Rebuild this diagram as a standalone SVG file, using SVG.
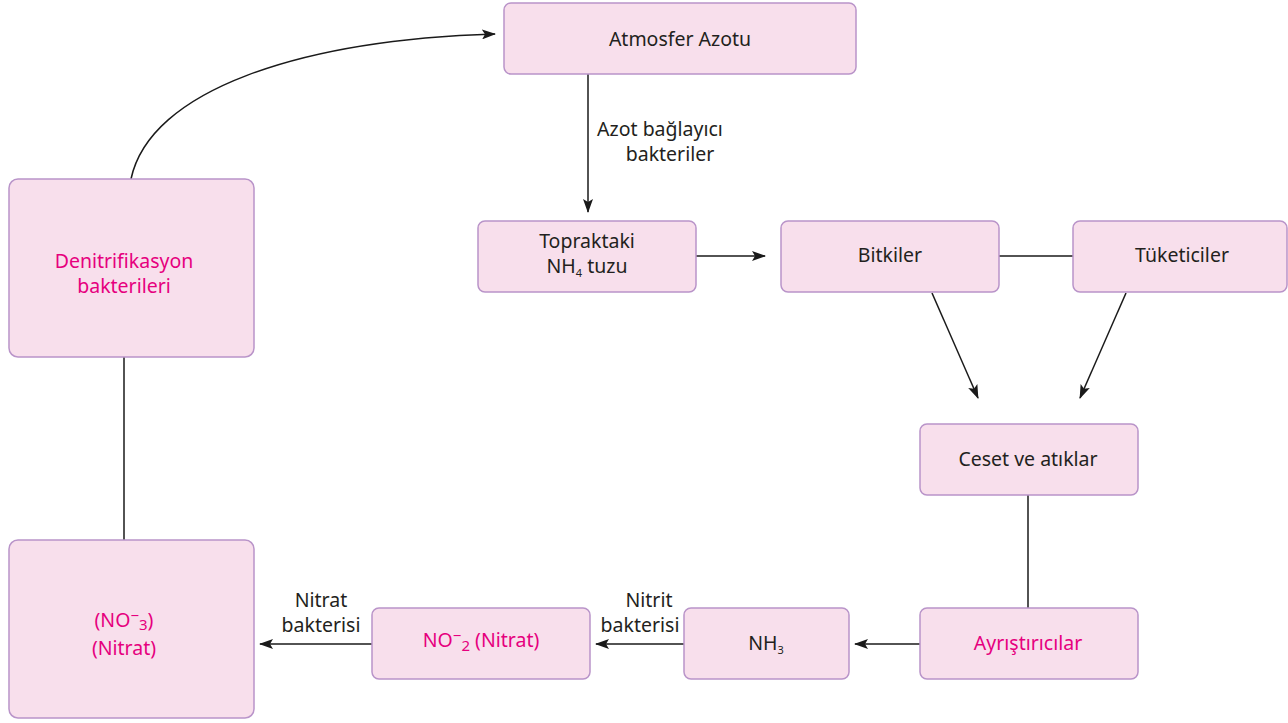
<svg xmlns="http://www.w3.org/2000/svg" width="1288" height="723" viewBox="0 0 1288 723">
<defs>
<marker id="ah" markerWidth="14" markerHeight="10" refX="13" refY="5" orient="auto" markerUnits="userSpaceOnUse">
<path d="M0,0 L14,5 L0,10 L3,5 Z" fill="#1a1a1a"/>
</marker>
<style>
.box{fill:#f8dfec;stroke:#b994c9;stroke-width:1.5}
.t{font-family:"Noto Sans","Liberation Sans",sans-serif;font-size:19.5px;fill:#231f20;text-anchor:middle}
.p{fill:#e6007e}
.c{stroke:#1a1a1a;stroke-width:1.5;fill:none}
.s{font-size:11px}
.m{font-size:15px}
</style>
</defs>
<rect width="1288" height="723" fill="#fff"/>
<g id="connectors">
<line class="c" x1="588" y1="74" x2="588" y2="212" marker-end="url(#ah)"/>
<line class="c" x1="696" y1="256" x2="765" y2="256" marker-end="url(#ah)"/>
<line class="c" x1="999" y1="256" x2="1073" y2="256"/>
<line class="c" x1="932" y1="293" x2="978" y2="398" marker-end="url(#ah)"/>
<line class="c" x1="1126" y1="293" x2="1080" y2="398" marker-end="url(#ah)"/>
<line class="c" x1="1028" y1="495" x2="1028" y2="608"/>
<line class="c" x1="920" y1="644" x2="855" y2="644" marker-end="url(#ah)"/>
<line class="c" x1="684" y1="644" x2="596" y2="644" marker-end="url(#ah)"/>
<line class="c" x1="372" y1="644" x2="260" y2="644" marker-end="url(#ah)"/>
<line class="c" x1="124" y1="540" x2="124" y2="357"/>
<path class="c" d="M131,179 C150,90 300,40 495,34" marker-end="url(#ah)"/>
<text class="t" x="660" y="136">Azot bağlayıcı</text>
<text class="t" x="670" y="161">bakteriler</text>
<text class="t" x="649" y="607">Nitrit</text>
<text class="t" x="640" y="632">bakterisi</text>
<text class="t" x="321" y="607">Nitrat</text>
<text class="t" x="321" y="632">bakterisi</text>
</g>
<g id="atmosfer">
<rect class="box" x="504" y="3" width="352" height="71" rx="7"/>
<text class="t" x="680" y="46">Atmosfer Azotu</text>
</g>
<g id="topraktaki">
<rect class="box" x="478" y="221" width="218" height="71" rx="7"/>
<text class="t" x="587" y="248">Topraktaki</text>
<text class="t" x="587" y="273">NH<tspan class="s" dy="4">4</tspan><tspan dy="-4"> tuzu</tspan></text>
</g>
<g id="bitkiler">
<rect class="box" x="781" y="221" width="218" height="71" rx="7"/>
<text class="t" x="890" y="262">Bitkiler</text>
</g>
<g id="tuketiciler">
<rect class="box" x="1073" y="221" width="214" height="71" rx="7"/>
<text class="t" x="1182" y="262">Tüketiciler</text>
</g>
<g id="ceset">
<rect class="box" x="920" y="424" width="218" height="71" rx="7"/>
<text class="t" x="1028" y="466">Ceset ve atıklar</text>
</g>
<g id="ayristiricilar">
<rect class="box" x="920" y="608" width="218" height="71" rx="7"/>
<text class="t p" x="1028" y="650">Ayrıştırıcılar</text>
</g>
<g id="nh3">
<rect class="box" x="684" y="608" width="165" height="71" rx="7"/>
<text class="t" x="766" y="650">NH<tspan class="s" dy="4">3</tspan></text>
</g>
<g id="no2">
<rect class="box" x="372" y="608" width="218" height="71" rx="7"/>
<text class="t p" x="481" y="647">NO<tspan class="m" dy="-6">−</tspan><tspan class="m" dy="10">2</tspan><tspan dy="-4"> (Nitrat)</tspan></text>
</g>
<g id="no3">
<rect class="box" x="9" y="540" width="245" height="178" rx="9"/>
<text class="t p" x="124" y="627">(NO<tspan class="m" dy="-6">−</tspan><tspan class="m" dy="9">3</tspan><tspan dy="-3">)</tspan></text>
<text class="t p" x="124" y="655">(Nitrat)</text>
</g>
<g id="denitrifikasyon">
<rect class="box" x="9" y="179" width="245" height="178" rx="9"/>
<text class="t p" x="124" y="268">Denitrifikasyon</text>
<text class="t p" x="124" y="293">bakterileri</text>
</g>
</svg>
